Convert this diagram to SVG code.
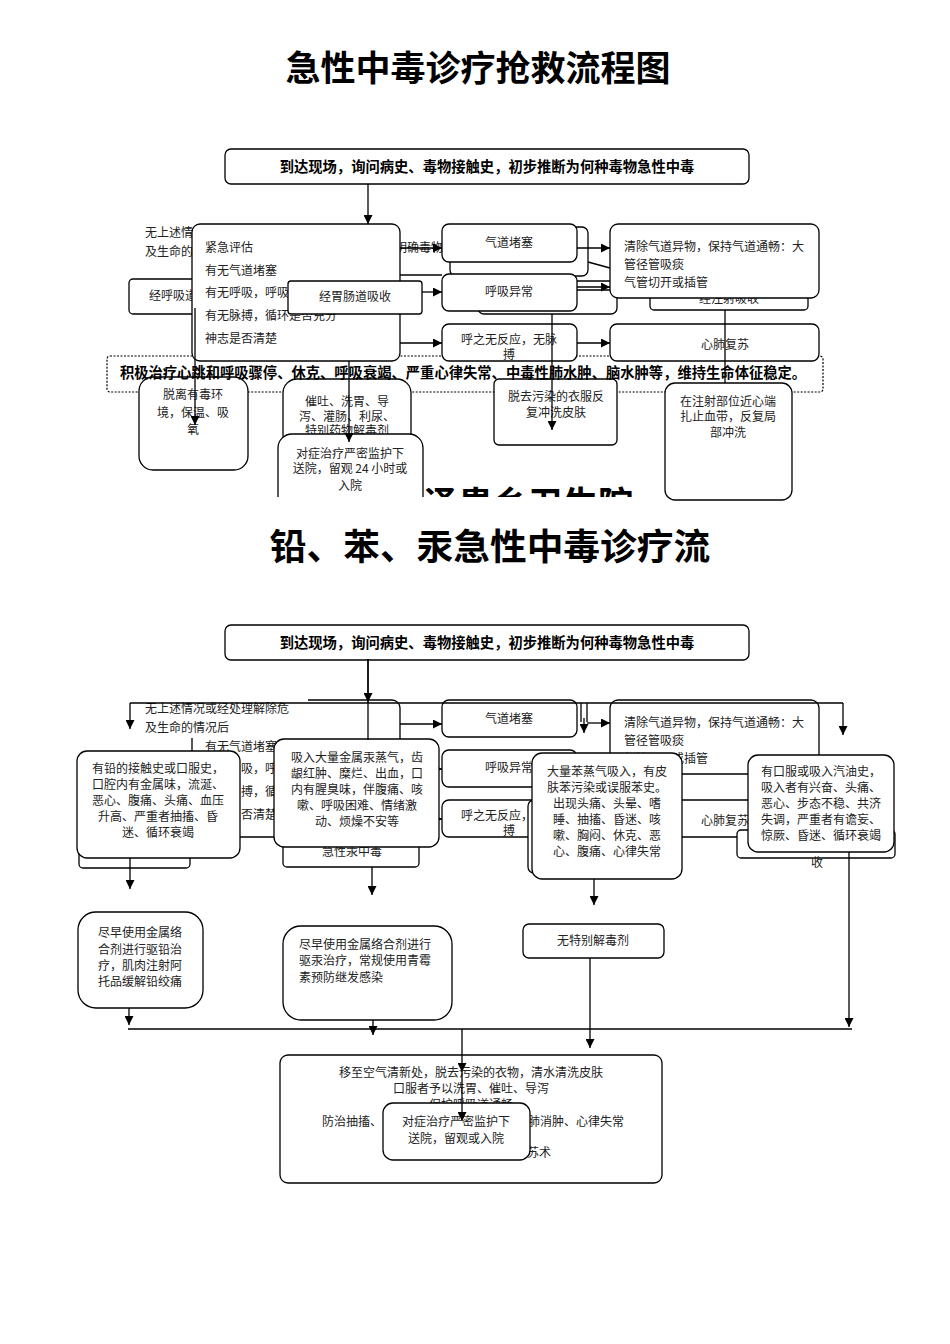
<svg xmlns="http://www.w3.org/2000/svg" width="950" height="1344" viewBox="0 0 950 1344">
<style>
.bx{fill:#fff;stroke:#000;stroke-width:1.3}
.ds{fill:#fff;stroke:#000;stroke-width:1.2;stroke-dasharray:2 1.5}
.t{font-family:"Noto Sans CJK SC","Liberation Sans",sans-serif;font-size:12px;fill:#222}
.c{text-anchor:middle}
.b{font-family:"Noto Sans CJK SC","Liberation Sans",sans-serif;font-size:14.3px;font-weight:bold;fill:#000}
.ttl{font-family:"Noto Sans CJK SC","Liberation Sans",sans-serif;font-weight:bold;fill:#000;text-anchor:middle}
.ln{stroke:#000;stroke-width:1.3;fill:none}
.ar{stroke:#000;stroke-width:1.3;fill:none;marker-end:url(#ah)}
</style>
<defs>
<marker id="ah" viewBox="0 0 10 10" refX="10" refY="5" markerWidth="10" markerHeight="9" markerUnits="userSpaceOnUse" orient="auto"><path d="M0,0 L10,5 L0,10 z" fill="#000"/></marker>
<clipPath id="cut"><rect x="0" y="0" width="950" height="497"/></clipPath>
</defs>
<rect width="950" height="1344" fill="#fff"/>

<!-- ===== Section 1 ===== -->
<text id="title1" class="ttl" x="478" y="81" font-size="35">急性中毒诊疗抢救流程图</text>

<g id="s1-top"><rect class="bx" x="225" y="149" width="524" height="35" rx="6"/><text class="b c" x="487" y="172">到达现场，询问病史、毒物接触史，初步推断为何种毒物急性中毒</text></g>

<g id="s1-note"><text class="t" x="145" y="237">无上述情</text><text class="t" x="145" y="256">及生命的</text></g>
<g id="s1-resp"><rect class="bx" x="129" y="279" width="130" height="35" rx="4"/><text class="t" x="149" y="300">经呼吸道</text></g>
<text id="s1-clear" class="t" x="395" y="252">明确毒物</text>

<g id="s1-dash"><rect class="ds" x="107" y="356" width="716" height="36" rx="3"/></g>

<g id="s1-eval"><rect class="bx" x="192" y="224" width="208" height="137" rx="8"/>
<text class="t" x="205" y="252">紧急评估</text><text class="t" x="205" y="275">有无气道堵塞</text><text class="t" x="205" y="297">有无呼吸，呼吸</text><text class="t" x="205" y="320">有无脉搏，循环是否充分</text><text class="t" x="205" y="343">神志是否清楚</text></g>

<g id="s1-gi"><rect class="bx" x="288" y="281" width="134" height="33" rx="3"/><text class="t c" x="355" y="301">经胃肠道吸收</text></g>

<g id="s1-back"><rect class="bx" x="450" y="227" width="138" height="49" rx="6"/><rect class="bx" x="478" y="290" width="139" height="24" rx="6"/><rect class="bx" x="650" y="280" width="158" height="30" rx="4"/><text class="t c" x="729" y="303">经注射吸收</text></g>

<g id="s1-airway"><rect class="bx" x="442" y="224" width="135" height="38" rx="7"/><text class="t c" x="509" y="247">气道堵塞</text></g>
<g id="s1-breath"><rect class="bx" x="442" y="274" width="135" height="37" rx="7"/><text class="t c" x="509" y="296">呼吸异常</text></g>
<g id="s1-nopulse"><rect class="bx" x="442" y="324" width="135" height="37" rx="7"/><text class="t c" x="509" y="344">呼之无反应，无脉</text><text class="t c" x="509" y="359">搏</text></g>
<g id="s1-clearair"><rect class="bx" x="610" y="224" width="209" height="74" rx="8"/><text class="t" x="624" y="251">清除气道异物，保持气道通畅：大</text><text class="t" x="624" y="269">管径管吸痰</text><text class="t" x="624" y="287">气管切开或插管</text></g>
<g id="s1-cpr"><rect class="bx" x="610" y="324" width="209" height="37" rx="7"/><text class="t c" x="725" y="349">心肺复苏</text></g>

<g id="s1-leave"><rect class="bx" x="139" y="377" width="109" height="93" rx="14"/><text class="t c" x="193" y="399">脱离有毒环</text><text class="t c" x="193" y="417">境，保温、吸</text><text class="t c" x="193" y="434">氧</text></g>
<g id="s1-emesis"><rect class="bx" x="283" y="379" width="128" height="70" rx="14"/><text class="t c" x="347" y="406">催吐、洗胃、导</text><text class="t c" x="347" y="421">泻、灌肠、利尿、</text><text class="t c" x="347" y="435">特别药物解毒剂</text></g>
<g clip-path="url(#cut)">
<text id="s1-hosp" x="423" y="517" font-family="'Noto Sans CJK SC',sans-serif" font-size="35" font-weight="bold" fill="#000">泽患乡卫生院</text>
<g id="s1-monitor"><rect class="bx" x="278" y="434" width="145" height="80" rx="14"/><text class="t c" x="350" y="458">对症治疗严密监护下</text><text class="t c" x="350" y="473">送院，留观 24 小时或</text><text class="t c" x="350" y="490">入院</text></g>
</g>
<g id="s1-skin"><rect class="bx" x="494" y="379" width="123" height="66" rx="5"/><text class="t c" x="556" y="401">脱去污染的衣服反</text><text class="t c" x="556" y="417">复冲洗皮肤</text></g>
<g id="s1-inject"><rect class="bx" x="665" y="383" width="127" height="117" rx="10"/><text class="t c" x="728" y="406">在注射部位近心端</text><text class="t c" x="728" y="421">扎止血带，反复局</text><text class="t c" x="728" y="437">部冲洗</text></g>

<g id="s1-connectors">
<path class="ar" d="M368,184 V224"/>
<path class="ar" d="M400,248 H442"/>
<path class="ln" d="M400,275 H442"/>
<path class="ar" d="M422,292 H442"/>
<path class="ar" d="M400,343 H442"/>
<path class="ar" d="M577,248 H610"/>
<path class="ln" d="M588,262 L610,268"/>
<path class="ln" d="M577,281 H610"/>
<path class="ar" d="M577,287 H610"/>
<path class="ar" d="M577,343 H610"/>
<path class="ar" d="M552,314 V430"/>
<path class="ln" d="M725,310 V383"/>
<path class="ar" d="M195,308 V425"/>
<path class="ar" d="M349,361 V442"/>
</g>
<text id="s1-dash-text" class="b c" x="463" y="378" font-size="14.6">积极治疗心跳和呼吸骤停、休克、呼吸衰竭、严重心律失常、中毒性肺水肿、脑水肿等，维持生命体征稳定。</text>

<!-- ===== Section 2 ===== -->
<text id="title2" class="ttl" x="490" y="560" font-size="36.7">铅、苯、汞急性中毒诊疗流</text>

<g id="s2-top"><rect class="bx" x="225" y="625" width="524" height="35" rx="6"/><text class="b c" x="487" y="648">到达现场，询问病史、毒物接触史，初步推断为何种毒物急性中毒</text></g>

<g id="s2-eval"><rect class="bx" x="192" y="700" width="208" height="137" rx="8"/>
<text class="t" x="205" y="751">有无气道堵塞</text><text class="t" x="241" y="773">吸，呼</text><text class="t" x="241" y="796">搏，循</text><text class="t" x="241" y="819">否清楚</text></g>
<g id="s2-note"><rect x="135" y="697" width="173" height="41" fill="#fff"/><text class="t" x="145" y="713">无上述情况或经处理解除危</text><text class="t" x="145" y="732">及生命的情况后</text></g>

<g id="s2-airway"><rect class="bx" x="442" y="700" width="135" height="37" rx="7"/><text class="t c" x="509" y="723">气道堵塞</text></g>
<g id="s2-breath"><rect class="bx" x="442" y="750" width="135" height="37" rx="7"/><text class="t c" x="509" y="772">呼吸异常</text></g>
<g id="s2-nopulse"><rect class="bx" x="442" y="800" width="135" height="37" rx="7"/><text class="t c" x="509" y="820">呼之无反应，无脉</text><text class="t c" x="509" y="835">搏</text></g>
<g id="s2-clearair"><rect class="bx" x="610" y="700" width="209" height="74" rx="8"/><text class="t" x="624" y="727">清除气道异物，保持气道通畅：大</text><text class="t" x="624" y="745">管径管吸痰</text><text class="t" x="624" y="763">气管切开或插管</text></g>
<g id="s2-cpr"><rect class="bx" x="610" y="800" width="209" height="37" rx="7"/><text class="t c" x="725" y="825">心肺复苏</text></g>

<g id="s2-connectors-under">
<path class="ar" d="M400,724 H442"/>
<path class="ar" d="M400,769 H442"/>
<path class="ar" d="M400,819 H442"/>
<path class="ar" d="M587,723 H610"/>
<path class="ar" d="M577,769 H610"/>
<path class="ar" d="M577,819 H610"/>
</g>

<g id="s2-back">
<rect class="bx" x="79" y="800" width="111" height="68" rx="4"/>
<rect class="bx" x="283" y="800" width="136" height="67" rx="4"/><text class="t c" x="352" y="856">急性汞中毒</text>
<rect class="bx" x="528" y="800" width="140" height="73" rx="6"/>
<rect class="bx" x="737" y="830" width="158" height="28" rx="4"/><text class="t c" x="817" y="867">收</text>
</g>

<g id="s2-lead"><rect class="bx" x="77" y="751" width="163" height="107" rx="10"/>
<text class="t c" x="158" y="773">有铅的接触史或口服史，</text><text class="t c" x="158" y="789">口腔内有金属味，流涎、</text><text class="t c" x="158" y="805">恶心、腹痛、头痛、血压</text><text class="t c" x="158" y="821">升高、严重者抽搐、昏</text><text class="t c" x="158" y="837">迷、循环衰竭</text></g>
<g id="s2-mercury"><rect class="bx" x="274" y="739" width="165" height="108" rx="10"/>
<text class="t c" x="357" y="762">吸入大量金属汞蒸气，齿</text><text class="t c" x="357" y="778">龈红肿、糜烂、出血，口</text><text class="t c" x="357" y="794">内有腥臭味，伴腹痛、咳</text><text class="t c" x="357" y="810">嗽、呼吸困难、情绪激</text><text class="t c" x="357" y="826">动、烦燥不安等</text></g>
<g id="s2-benzene"><rect class="bx" x="532" y="753" width="150" height="126" rx="10"/>
<text class="t c" x="607" y="776">大量苯蒸气吸入，有皮</text><text class="t c" x="607" y="792">肤苯污染或误服苯史。</text><text class="t c" x="607" y="808">出现头痛、头晕、嗜</text><text class="t c" x="607" y="824">睡、抽搐、昏迷、咳</text><text class="t c" x="607" y="840">嗽、胸闷、休克、恶</text><text class="t c" x="607" y="856">心、腹痛、心律失常</text></g>
<g id="s2-petrol"><rect class="bx" x="748" y="755" width="146" height="97" rx="10"/>
<text class="t c" x="821" y="776">有口服或吸入汽油史，</text><text class="t c" x="821" y="792">吸入者有兴奋、头痛、</text><text class="t c" x="821" y="808">恶心、步态不稳、共济</text><text class="t c" x="821" y="824">失调，严重者有谵妄、</text><text class="t c" x="821" y="840">惊厥、昏迷、循环衰竭</text></g>

<g id="s2-leadtx"><rect class="bx" x="78" y="912" width="125" height="96" rx="18"/>
<text class="t c" x="140" y="937">尽早使用金属络</text><text class="t c" x="140" y="954">合剂进行驱铅治</text><text class="t c" x="140" y="970">疗，肌肉注射阿</text><text class="t c" x="140" y="986">托品缓解铅绞痛</text></g>
<g id="s2-mercurytx"><rect class="bx" x="283" y="926" width="169" height="94" rx="18"/>
<text class="t" x="299" y="949">尽早使用金属络合剂进行</text><text class="t" x="299" y="965">驱汞治疗，常规使用青霉</text><text class="t" x="299" y="982">素预防继发感染</text></g>
<g id="s2-noantidote"><rect class="bx" x="523" y="924" width="141" height="34" rx="6"/><text class="t c" x="593" y="945">无特别解毒剂</text></g>

<g id="s2-final"><rect class="bx" x="280" y="1055" width="382" height="128" rx="8"/>
<text class="t c" x="471" y="1077">移至空气清新处，脱去污染的衣物，清水清洗皮肤</text>
<text class="t c" x="471" y="1093">口服者予以洗胃、催吐、导泻</text>
<text class="t c" x="471" y="1109">保护呼吸道通畅</text>
<text class="t" x="322" y="1126">防治抽搐、</text>
<text class="t" x="528" y="1126">肺消肿、心律失常</text>
<text class="t" x="527" y="1157">苏术</text></g>
<g id="s2-monitor"><rect class="bx" x="383" y="1103" width="147" height="57" rx="10"/>
<text class="t c" x="456" y="1126">对症治疗严密监护下</text><text class="t c" x="456" y="1143">送院，留观或入院</text></g>

<g id="s2-connectors">
<path class="ln" d="M368,659 V740"/>
<path class="ar" d="M368,659 V702"/>
<path class="ln" d="M130,703 H843"/>
<path class="ar" d="M130,703 V729"/>
<path class="ar" d="M843,703 V735"/>
<path class="ln" d="M581,703 V722"/>
<path class="ln" d="M587,703 V722"/>
<path class="ar" d="M584,718 V733"/>
<path class="ar" d="M130,858 V889"/>
<path class="ar" d="M372,867 V895"/>
<path class="ar" d="M594,879 V905"/>
<path class="ar" d="M849,852 V1027"/>
<path class="ar" d="M129,1008 V1025"/>
<path class="ar" d="M373,1020 V1035"/>
<path class="ar" d="M590,958 V1048"/>
<path class="ln" d="M128,1029 H852"/>
<path class="ar" d="M462,1029 V1072"/>
<path class="ar" d="M462,1072 V1121"/>
</g>
</svg>
